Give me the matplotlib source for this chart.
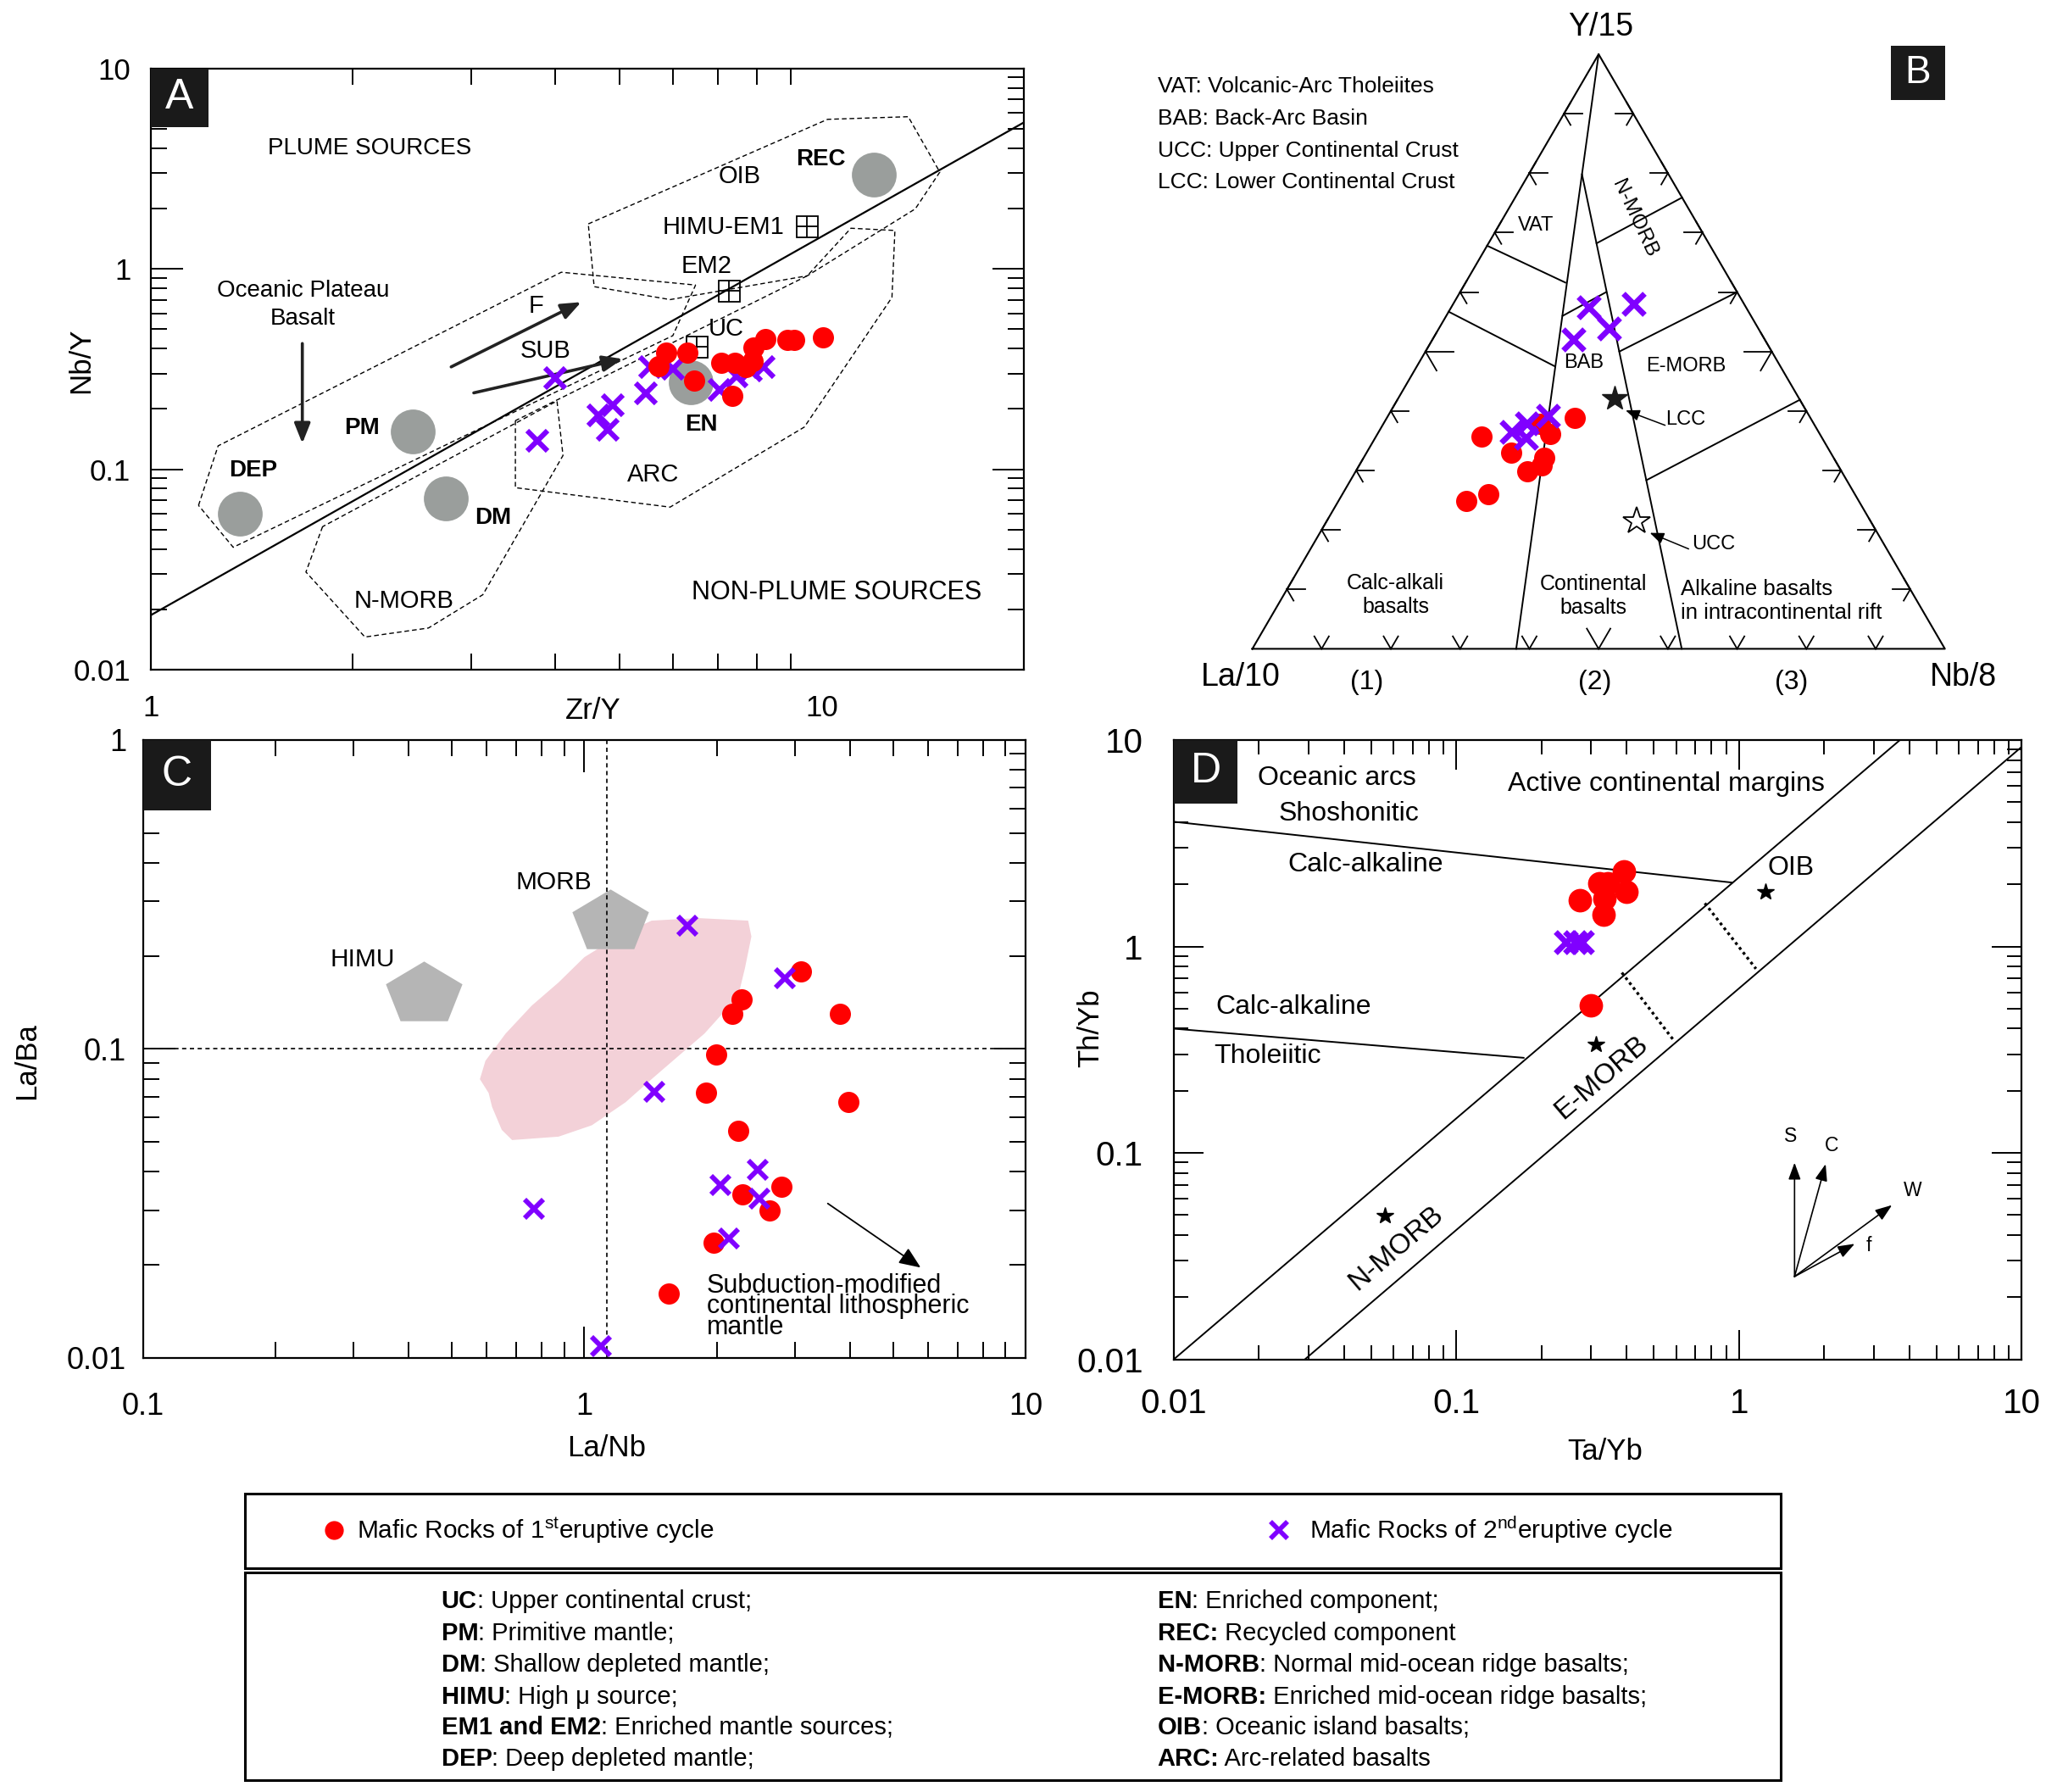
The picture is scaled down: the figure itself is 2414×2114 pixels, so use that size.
import numpy as np
import matplotlib
matplotlib.use('Agg')
import matplotlib.pyplot as plt
from matplotlib.patches import Polygon, Rectangle
from matplotlib.ticker import FixedLocator, NullFormatter, FuncFormatter
from matplotlib.lines import Line2D

plt.rcParams['font.family'] = ['Liberation Sans', 'DejaVu Sans']
plt.rcParams['mathtext.fontset'] = 'custom'
plt.rcParams['mathtext.rm'] = 'Liberation Sans'
plt.rcParams['mathtext.it'] = 'Liberation Sans:italic'
plt.rcParams['mathtext.bf'] = 'Liberation Sans:bold'

W, H = 2414, 2114
RED = '#ff0000'
PURPLE = '#8000ff'
GREY = '#9a9e9c'
PENT = '#b5b5b5'
PINK = '#f3d1d8'

# ---------------- DATA ----------------
# Panel A : Zr/Y vs Nb/Y
a_red_zr_y = [5.87, 5.71, 6.31, 6.45, 7.09, 7.41, 7.88, 7.92, 8.24, 8.89, 9.10, 10.04, 7.35, 7.70]
a_red_nb_y = [0.383, 0.328, 0.383, 0.277, 0.339, 0.339, 0.345, 0.404, 0.448, 0.441, 0.441, 0.456, 0.232, 0.322]
a_pur_zr_y = [4.00, 3.77, 4.64, 4.88, 4.80, 5.46, 5.55, 6.00, 7.05, 7.46, 8.19, 7.84]
a_pur_nb_y = [0.285, 0.139, 0.185, 0.209, 0.158, 0.240, 0.322, 0.317, 0.248, 0.290, 0.322, 0.311]
a_src_names = ['DEP', 'PM', 'DM', 'EN', 'REC']
a_src_zr_y = [1.356, 2.455, 2.754, 6.378, 11.96]
a_src_nb_y = [0.0601, 0.1547, 0.0713, 0.2708, 2.958]
a_src_lab_x = [1.420, 2.063, 3.240, 6.616, 9.97]
a_src_lab_y = [0.0984, 0.160, 0.0574, 0.1664, 3.52]
a_box_names = ['HIMU-EM1', 'EM2', 'UC']
a_box_zr_y = [9.50, 7.26, 6.50]
a_box_nb_y = [1.622, 0.776, 0.408]
a_plateau_zr = [1.178, 1.260, 4.090, 6.484, 5.997, 1.327]
a_plateau_nb = [0.0660, 0.1308, 0.961, 0.8295, 0.4638, 0.0408]
a_oib_zr = [4.487, 10.20, 13.45, 14.99, 13.78, 9.512, 5.941, 4.578]
a_oib_nb = [1.674, 5.566, 5.736, 3.037, 1.990, 0.9224, 0.7018, 0.8144]
a_arc_zr = [3.494, 3.494, 5.941, 9.417, 12.72, 12.85, 11.05, 9.512]
a_arc_nb = [0.1747, 0.0809, 0.0647, 0.1623, 0.7197, 1.553, 1.593, 0.9224]
a_nmorb_zr = [1.803, 1.703, 2.085, 2.593, 3.125, 4.114, 4.030]
a_nmorb_nb = [0.0517, 0.0307, 0.01455, 0.01614, 0.02366, 0.1171, 0.2190]
a_line_zr = [1.0, 20.0]
a_line_nb = [0.0187, 5.37]

# Panel B : ternary La/10 - Nb/8 - Y/15 (fractions)
b_red_la = [0.341, 0.491, 0.389, 0.461, 0.417, 0.428, 0.454, 0.529, 0.567, 0.395]
b_red_nb = [0.271, 0.152, 0.250, 0.209, 0.261, 0.263, 0.247, 0.211, 0.184, 0.226]
b_red_y = [0.388, 0.357, 0.361, 0.330, 0.322, 0.309, 0.299, 0.260, 0.249, 0.379]
b_pur_la = [0.227, 0.160, 0.216, 0.277, 0.378, 0.414, 0.444, 0.428]
b_pur_nb = [0.198, 0.259, 0.245, 0.202, 0.230, 0.206, 0.191, 0.217]
b_pur_y = [0.575, 0.581, 0.539, 0.521, 0.392, 0.380, 0.365, 0.355]
b_lcc = (0.266, 0.313, 0.421)
b_ucc = (0.338, 0.448, 0.214)

# Panel C : La/Nb vs La/Ba
c_red_la_nb = [3.10, 2.27, 2.16, 3.80, 1.99, 1.89, 3.97, 2.23, 2.79, 2.28, 2.63, 1.96]
c_red_la_ba = [0.178, 0.145, 0.130, 0.130, 0.0957, 0.072, 0.0675, 0.0542, 0.0359, 0.0339, 0.0299, 0.0236]
c_pur_la_nb = [1.71, 2.84, 1.44, 0.77, 2.47, 2.03, 2.49, 2.13, 1.09]
c_pur_la_ba = [0.251, 0.169, 0.0725, 0.0303, 0.0406, 0.0363, 0.0327, 0.0243, 0.0109]
c_pent_names = ['MORB', 'HIMU']
c_pent_la_nb = [1.145, 0.432]
c_pent_la_ba = [0.2626, 0.154]
c_pink_la_nb = [2.35, 2.39, 2.31, 2.23, 1.87, 1.63, 1.42, 1.24, 1.04, 0.874, 0.686, 0.650,
                0.618, 0.607, 0.580, 0.597, 0.663, 0.760, 0.874, 1.00, 1.19, 1.42, 1.81]
c_pink_la_ba = [0.260, 0.231, 0.182, 0.148, 0.112, 0.0946, 0.0798, 0.0672, 0.0566, 0.052, 0.0507, 0.0547,
                0.0649, 0.0720, 0.0798, 0.0915, 0.112, 0.138, 0.164, 0.198, 0.231, 0.260, 0.265]

# Panel D : Ta/Yb vs Th/Yb
d_red_ta_yb = [0.391, 0.321, 0.343, 0.399, 0.274, 0.334, 0.331, 0.299]
d_red_th_yb = [2.31, 2.02, 2.02, 1.84, 1.67, 1.71, 1.43, 0.520]
d_pur_ta_yb = [0.244, 0.262, 0.277]
d_pur_th_yb = [1.05, 1.05, 1.05]
d_star_ta_yb = [1.24, 0.312, 0.0558]
d_star_th_yb = [1.84, 0.336, 0.0498]

fig = plt.figure(figsize=(W / 100, H / 100), dpi=100)


def rect(l, t, r, b):
    return [l / W, 1 - b / H, (r - l) / W, (b - t) / H]


def fx(x):
    return x / W


def fy(y):
    return 1 - y / H


def minors(e0, e1):
    return [k * 10.0 ** e for e in range(e0, e1) for k in range(2, 10)]


def setup_log(ax, xlim, ylim, xmaj, ymaj, xmin, ymin, labsize, xpad, ypad, majlen=27, minlen=14):
    ax.set_xscale('log')
    ax.set_yscale('log')
    ax.set_xlim(*xlim)
    ax.set_ylim(*ylim)
    ax.xaxis.set_major_locator(FixedLocator(xmaj))
    ax.yaxis.set_major_locator(FixedLocator(ymaj))
    ax.xaxis.set_minor_locator(FixedLocator(xmin))
    ax.yaxis.set_minor_locator(FixedLocator(ymin))
    fmt = FuncFormatter(lambda v, p: '%g' % v)
    ax.xaxis.set_major_formatter(fmt)
    ax.yaxis.set_major_formatter(fmt)
    ax.xaxis.set_minor_formatter(NullFormatter())
    ax.yaxis.set_minor_formatter(NullFormatter())
    ax.tick_params(which='both', direction='in', top=True, right=True, width=1.4, colors='k')
    ax.tick_params(which='major', length=majlen, labelsize=labsize)
    ax.tick_params(which='minor', length=minlen)
    ax.tick_params(axis='x', which='major', pad=xpad)
    ax.tick_params(axis='y', which='major', pad=ypad)
    for s in ax.spines.values():
        s.set_linewidth(1.6)


def letter_box(l, t, r, b, s, fs=36):
    fig.add_artist(Rectangle((fx(l), fy(b)), (r - l) / W, (b - t) / H, transform=fig.transFigure,
                             facecolor='#1a1a1a', edgecolor='none', zorder=10))
    fig.text(fx((l + r) / 2), fy((t + b) / 2), s, color='white', fontsize=fs, ha='center',
             va='center', zorder=11)


DASH = (0, (4, 2.5))

# ---------------- PANEL A ----------------
axA = fig.add_axes(rect(177.9, 80.6, 1208, 790))
setup_log(axA, (1, 20), (0.01, 10), [1, 10], [0.01, 0.1, 1, 10], list(range(2, 10)), minors(-2, 1),
          25, 21, 17)
axA.tick_params(axis='x', which='major', length=0)
for zx, nb in [(a_plateau_zr, a_plateau_nb), (a_oib_zr, a_oib_nb), (a_arc_zr, a_arc_nb),
               (a_nmorb_zr, a_nmorb_nb)]:
    axA.add_patch(Polygon(np.column_stack([zx, nb]), closed=True, fill=False, edgecolor='k',
                          lw=1.0, linestyle=DASH, zorder=2))
axA.plot(a_line_zr, a_line_nb, color='k', lw=1.6, zorder=3)
axA.plot(a_src_zr_y, a_src_nb_y, 'o', ms=38, color=GREY, mec='none', zorder=4)
for n, x, y in zip(a_src_names, a_src_lab_x, a_src_lab_y):
    axA.text(x, y, n, fontsize=20, fontweight='bold', ha='center', va='center', zorder=6)
axA.plot(a_box_zr_y, a_box_nb_y, 's', ms=18, mfc='none', mec='k', mew=1.3, zorder=5)
axA.plot(a_box_zr_y, a_box_nb_y, '+', ms=18, color='k', mew=1.3, zorder=5)
axA.text(8.80, 1.605, 'HIMU-EM1', fontsize=21, ha='right', va='center')
axA.text(6.74, 1.03, 'EM2', fontsize=21, ha='center', va='center')
axA.text(7.21, 0.502, 'UC', fontsize=21, ha='center', va='center')
axA.text(7.54, 2.88, 'OIB', fontsize=21, ha='center', va='center')
axA.text(5.61, 0.0938, 'ARC', fontsize=21, ha='center', va='center')
axA.text(2.386, 0.0221, 'N-MORB', fontsize=21, ha='center', va='center')
axA.text(3.87, 0.389, 'SUB', fontsize=21, ha='center', va='center')
axA.text(3.75, 0.654, 'F', fontsize=21, ha='center', va='center')
axA.text(2.118, 3.99, 'PLUME SOURCES', fontsize=20, ha='center', va='center')
axA.text(10.51, 0.02434, 'NON-PLUME SOURCES', fontsize=22, ha='center', va='center')
axA.text(1.685, 0.659, 'Oceanic Plateau\nBasalt', fontsize=20, ha='center', va='center',
         linespacing=1.35)
arw = dict(arrowstyle='-|>,head_length=0.55,head_width=0.22', color='#222222', lw=2.6,
           mutation_scale=26, shrinkA=0, shrinkB=0)
axA.annotate('', xy=(4.379, 0.682), xytext=(2.803, 0.324), arrowprops=arw)
axA.annotate('', xy=(5.049, 0.3549), xytext=(3.029, 0.2404), arrowprops=arw)
axA.annotate('', xy=(1.682, 0.1346), xytext=(1.682, 0.4237), arrowprops=arw)
axA.plot(a_pur_zr_y, a_pur_nb_y, 'x', ms=17, mew=4.4, color=PURPLE, zorder=7)
axA.plot(a_red_zr_y, a_red_nb_y, 'o', ms=18, color=RED, mec='none', zorder=8)
fig.text(fx(700), fy(838), 'Zr/Y', fontsize=25, ha='center', va='center')
fig.text(fx(95.5), fy(425), 'Nb/Y', fontsize=25, ha='center', va='center', rotation=90)
letter_box(177.6, 80.6, 246.5, 149.5, 'A')

# ---------------- PANEL B (ternary) ----------------
h = np.sqrt(3) / 2


def tern(la, nb, yy):
    la, nb, yy = map(np.asarray, (la, nb, yy))
    s = la + nb + yy
    return (nb + yy / 2) / s, yy * h / s


axB = fig.add_axes(rect(1477.6, 64, 2294.7, 765.4))
axB.set_xlim(0, 1)
axB.set_ylim(0, h)
axB.axis('off')
axB.plot([0, 1, 0.5, 0], [0, 0, h, 0], color='k', lw=1.5, clip_on=False)
b_lines = [((0.5, 1.0), (0.381, 0.0)),
           ((0.476, 0.798), (0.620, 0.0)),
           ((0.339, 0.678), (0.452, 0.616)),
           ((0.2835, 0.567), (0.437, 0.475)),
           ((0.497, 0.682), (0.6205, 0.759)),
           ((0.448, 0.560), (0.511, 0.600)),
           ((0.530, 0.500), (0.700, 0.600)),
           ((0.569, 0.2836), (0.7906, 0.4189))]
for (x0, y0), (x1, y1) in b_lines:
    axB.plot([x0, x1], [y0 * h, y1 * h], color='k', lw=1.4, clip_on=False)


def chevron(p, d, theta, arm, shaft):
    p = np.array(p)
    d = np.array(d, float)
    segs = []
    for s in (1, -1):
        c, sn = np.cos(s * theta), np.sin(s * theta)
        r = np.array([c * d[0] - sn * d[1], sn * d[0] + c * d[1]])
        e = p - arm * r
        segs.append(([p[0], e[0]], [p[1], e[1]]))
    if shaft > 0:
        e = p - shaft * d
        segs.append(([p[0], e[0]], [p[1], e[1]]))
    for xs, ys in segs:
        axB.plot(xs, ys, color='k', lw=1.3, clip_on=False)


for i in range(1, 10):
    f = i / 10
    big = (i == 5)
    arm = 0.032 if big else 0.019
    shaft = 0.040 if big else 0.026
    chevron((f / 2, f * h), (-1, 0), np.radians(60), arm, shaft)
    chevron((1 - f / 2, f * h), (1, 0), np.radians(60), arm, shaft)
    chevron((f, 0), (0, -1), np.radians(30), 0.034 if big else 0.021, 0)

bx, by = tern(b_red_la, b_red_nb, b_red_y)
axB.plot(bx, by, 'o', ms=18, color=RED, mec='none', zorder=5, clip_on=False)
px_, py_ = tern(b_pur_la, b_pur_nb, b_pur_y)
axB.plot(px_, py_, 'x', ms=18, mew=4.8, color=PURPLE, zorder=6, clip_on=False)
lx, ly = tern(*b_lcc)
axB.plot([lx], [ly], '*', ms=22, color='#1a1a1a', mec='#1a1a1a', zorder=6)
ux, uy = tern(*b_ucc)
axB.plot([ux], [uy], '*', ms=24, mfc='white', mec='k', mew=1.3, zorder=6)
larw = dict(arrowstyle='-|>,head_length=0.5,head_width=0.2', color='k', lw=1.1,
            mutation_scale=20, shrinkA=0, shrinkB=0)
axB.annotate('', xy=(0.539, 0.3473), xytext=(0.596, 0.3256), arrowprops=larw)
axB.annotate('', xy=(0.574, 0.1689), xytext=(0.630, 0.1455), arrowprops=larw)
axB.text(0.597, 0.334, 'LCC', fontsize=17, ha='left', va='center')
axB.text(0.635, 0.152, 'UCC', fontsize=17, ha='left', va='center')
axB.text(0.409, 0.617, 'VAT', fontsize=17, ha='center', va='center')
axB.text(0.478, 0.416, 'BAB', fontsize=17, ha='center', va='center')
axB.text(0.626, 0.412, 'E-MORB', fontsize=17, ha='center', va='center')
axB.text(0.552, 0.627, 'N-MORB', fontsize=17.5, ha='center', va='center', rotation=-65)
axB.text(0.207, 0.078, 'Calc-alkali\nbasalts', fontsize=18, ha='center', va='center')
axB.text(0.493, 0.077, 'Continental\nbasalts', fontsize=18, ha='center', va='center')
axB.text(0.619, 0.070, 'Alkaline basalts\nin intracontinental rift', fontsize=18.5, ha='left',
         va='center')
axB.text(0.503, 0.905, 'Y/15', fontsize=27, ha='center', va='center', clip_on=False)
axB.text(-0.017, -0.042, 'La/10', fontsize=27, ha='center', va='center', clip_on=False)
axB.text(1.026, -0.042, 'Nb/8', fontsize=27, ha='center', va='center', clip_on=False)
for s, xx in zip(['(1)', '(2)', '(3)'], [0.165, 0.494, 0.778]):
    axB.text(xx, -0.049, s, fontsize=23, ha='center', va='center', clip_on=False)
abbr = ['VAT: Volcanic-Arc Tholeiites', 'BAB: Back-Arc Basin', 'UCC: Upper Continental Crust',
        'LCC: Lower Continental Crust']
for s, yy in zip(abbr, [0.819, 0.772, 0.725, 0.680]):
    axB.text(-0.1365, yy, s, fontsize=19, ha='left', va='center', clip_on=False)
letter_box(2230.8, 54.2, 2294.7, 118.2, 'B', fs=33)

# ---------------- PANEL C ----------------
axC = fig.add_axes(rect(168.6, 872.8, 1210.3, 1601.9))
setup_log(axC, (0.1, 10), (0.01, 1), [0.1, 1, 10], [0.01, 0.1, 1], minors(-1, 1), minors(-2, 0),
          26, 29, 14)
axC.add_patch(Polygon(np.column_stack([c_pink_la_nb, c_pink_la_ba]), closed=True,
                      facecolor=PINK, edgecolor='none', zorder=1))
ang = np.pi / 2 + np.arange(5) * 2 * np.pi / 5
pv = np.column_stack([np.cos(ang), np.sin(ang) * 0.82])
pv[:, 1] -= (pv[:, 1].max() + pv[:, 1].min()) / 2
axC.plot(c_pent_la_nb, c_pent_la_ba, linestyle='none', marker=pv, ms=65, color=PENT, mec='none',
         zorder=2)
axC.axvline(1.125, color='k', lw=1.2, linestyle=(0, (3, 2.5)), zorder=3)
axC.axhline(0.1, color='k', lw=1.2, linestyle=(0, (3, 2.5)), zorder=3)
axC.text(0.853, 0.346, 'MORB', fontsize=21.5, ha='center', va='center')
axC.text(0.314, 0.194, 'HIMU', fontsize=21.5, ha='center', va='center')
axC.annotate('', xy=(5.78, 0.0196), xytext=(3.56, 0.0316),
             arrowprops=dict(arrowstyle='-|>,head_length=0.6,head_width=0.25', color='k', lw=1.3,
                             mutation_scale=26, shrinkA=0, shrinkB=0))
axC.plot(c_red_la_nb, c_red_la_ba, 'o', ms=18, color=RED, mec='none', zorder=5)
axC.plot(c_pur_la_nb, c_pur_la_ba, 'x', ms=16, mew=4.2, color=PURPLE, zorder=6, clip_on=False)
axC.plot([1.556], [0.0162], 'o', ms=18, color=RED, mec='none', zorder=5)
axC.text(1.891, 0.01465, 'Subduction-modified\ncontinental lithospheric\nmantle', fontsize=22,
         ha='left', va='center', linespacing=0.78)
fig.text(fx(716), fy(1709), 'La/Nb', fontsize=25, ha='center', va='center')
fig.text(fx(32), fy(1252), 'La/Ba', fontsize=25, ha='center', va='center', rotation=90)
letter_box(168.6, 872.8, 248.7, 955.7, 'C')

# ---------------- PANEL D ----------------
axD = fig.add_axes(rect(1384.8, 873, 2385.3, 1603.7))
setup_log(axD, (0.01, 10), (0.01, 10), [0.01, 0.1, 1, 10], [0.01, 0.1, 1, 10], minors(-2, 1),
          minors(-2, 1), 29, 24, 26, majlen=25, minlen=12.5)
lw_d = 1.4
axD.plot([0.01, 3.71], [0.01, 10], color='k', lw=lw_d)
axD.plot([0.0291, 10], [0.01, 9.27], color='k', lw=lw_d)
axD.plot([0.01, 0.946], [4.02, 2.04], color='k', lw=lw_d)
axD.plot([0.01, 0.173], [0.40, 0.289], color='k', lw=lw_d)
axD.plot([0.757, 1.148], [1.62, 0.78], color='k', lw=2.4, linestyle=(0, (1, 1.2)))
axD.plot([0.385, 0.583], [0.747, 0.356], color='k', lw=2.4, linestyle=(0, (1, 1.2)))
axD.text(0.0378, 6.55, 'Oceanic arcs', fontsize=23, ha='center', va='center')
axD.text(0.0415, 4.38, 'Shoshonitic', fontsize=23, ha='center', va='center')
axD.text(0.553, 6.14, 'Active continental margins', fontsize=23, ha='center', va='center')
axD.text(0.0477, 2.48, 'Calc-alkaline', fontsize=23, ha='center', va='center')
axD.text(1.53, 2.40, 'OIB', fontsize=23, ha='center', va='center')
axD.text(0.0265, 0.511, 'Calc-alkaline', fontsize=23, ha='center', va='center')
axD.text(0.0215, 0.294, 'Tholeiitic', fontsize=23, ha='center', va='center')
axD.text(0.326, 0.233, 'E-MORB', fontsize=24, ha='center', va='center', rotation=40.5)
axD.text(0.0613, 0.0344, 'N-MORB', fontsize=24, ha='center', va='center', rotation=40.5)
axD.plot(d_star_ta_yb, d_star_th_yb, '*', ms=15, color='k', zorder=5)
varw = dict(arrowstyle='-|>,head_length=0.6,head_width=0.22', color='k', lw=1.2,
            mutation_scale=20, shrinkA=0, shrinkB=0)
o = (1.572, 0.0252)
for tip in [(1.572, 0.0897), (2.025, 0.0884), (3.477, 0.0559), (2.566, 0.0363)]:
    axD.annotate('', xy=tip, xytext=o, arrowprops=varw)
for s, x, y in [('S', 1.522, 0.120), ('C', 2.121, 0.1084), ('W', 4.116, 0.066), ('f', 2.879, 0.0356)]:
    axD.text(x, y, s, fontsize=16.5, ha='center', va='center')
axD.plot(d_red_ta_yb, d_red_th_yb, 'o', ms=20, color=RED, mec='none', zorder=6)
axD.plot(d_pur_ta_yb, d_pur_th_yb, 'x', ms=18, mew=4.8, color=PURPLE, zorder=6)
fig.text(fx(1894), fy(1712), 'Ta/Yb', fontsize=25, ha='center', va='center')
fig.text(fx(1286.6), fy(1213), 'Th/Yb', fontsize=25, ha='center', va='center', rotation=90)
letter_box(1384.8, 873, 1460.3, 947.6, 'D')

# ---------------- LEGEND BOXES ----------------
for (t, b) in [(1762, 1850), (1855, 2100)]:
    fig.add_artist(Rectangle((fx(289.4), fy(b)), (2101 - 289.4) / W, (b - t) / H,
                             transform=fig.transFigure, fill=False, edgecolor='k', lw=2.2))
fig.add_artist(Line2D([fx(393.8)], [fy(1805)], transform=fig.transFigure, marker='o', ms=16,
                      color=RED, mec='none', linestyle='none'))
fig.add_artist(Line2D([fx(1508.7)], [fy(1805)], transform=fig.transFigure, marker='x', ms=14,
                      mew=4.0, color=PURPLE, linestyle='none'))
fig.text(fx(420.8), fy(1805), r'Mafic Rocks of 1$^{\mathrm{st}}$eruptive cycle', fontsize=21.5,
         ha='left', va='center')
fig.text(fx(1545), fy(1805), r'Mafic Rocks of 2$^{\mathrm{nd}}$eruptive cycle', fontsize=21.5,
         ha='left', va='center')

leg_left = [('UC', ': Upper continental crust;'), ('PM', ': Primitive mantle;'),
            ('DM', ': Shallow depleted mantle;'), ('HIMU', ': High \u03bc source;'),
            ('EM1 and EM2', ': Enriched mantle sources;'), ('DEP', ': Deep depleted mantle;')]
leg_right = [('EN', ': Enriched component;'), ('REC:', ' Recycled component'),
             ('N-MORB', ': Normal mid-ocean ridge basalts;'),
             ('E-MORB:', ' Enriched mid-ocean ridge basalts;'),
             ('OIB', ': Oceanic island basalts;'), ('ARC:', ' Arc-related basalts')]
rows_y = [1888, 1926, 1963, 2001, 2037, 2074]
renderer = fig.canvas.get_renderer()
for col_x, items in [(520.6, leg_left), (1365.5, leg_right)]:
    for (bold, rest), yy in zip(items, rows_y):
        t1 = fig.text(fx(col_x), fy(yy + 9), bold, fontsize=21, fontweight='bold', ha='left',
                      va='baseline')
        bb = t1.get_window_extent(renderer=renderer)
        fig.text(bb.x1 / fig.bbox.width, fy(yy + 9), rest, fontsize=21, ha='left',
                 va='baseline')

fig.savefig('out.png', dpi=100)
